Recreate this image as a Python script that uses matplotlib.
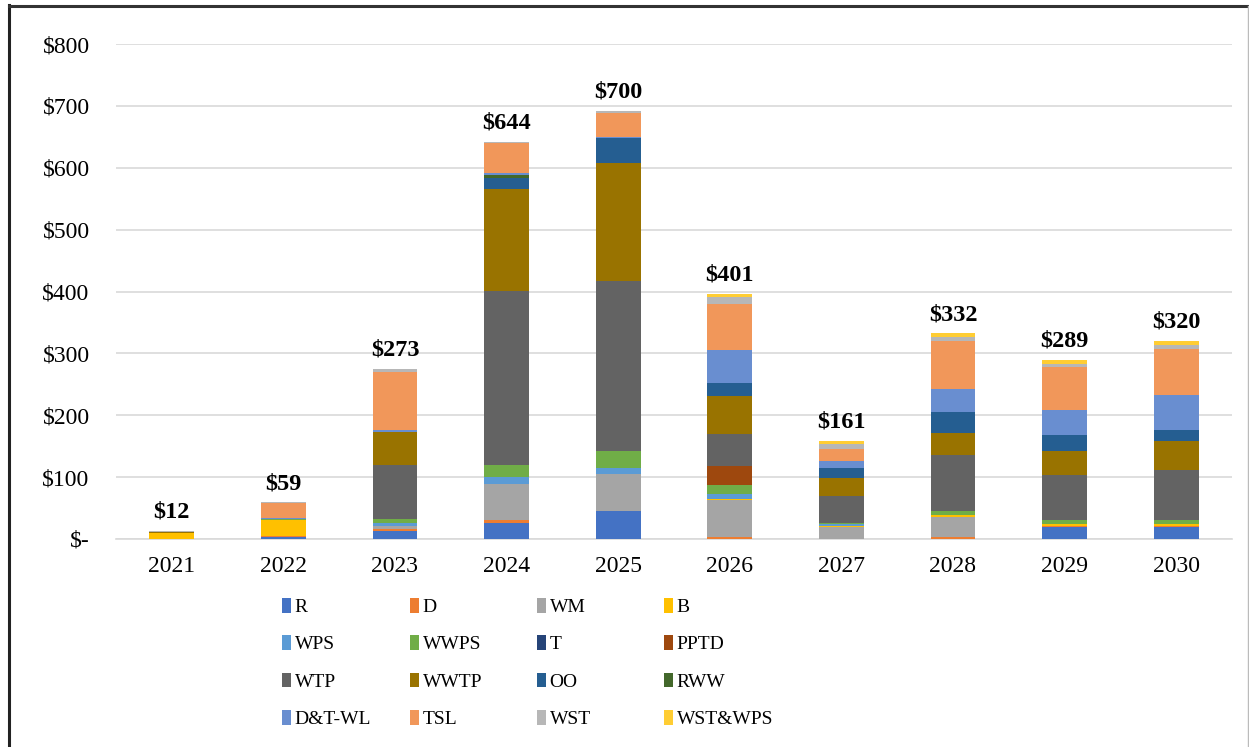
import numpy as np
from matplotlib import pyplot as plt
from matplotlib.lines import Line2D
from matplotlib.patches import Patch

plt.rcParams['font.family'] = ['Liberation Serif', 'DejaVu Serif']

years = ['2021', '2022', '2023', '2024', '2025', '2026', '2027', '2028', '2029', '2030']
totals = [12, 59, 273, 644, 700, 401, 161, 332, 289, 320]

cats = ['R', 'D', 'WM', 'B', 'WPS', 'WWPS', 'T', 'PPTD',
        'WTP', 'WWTP', 'OO', 'RWW', 'D&T-WL', 'TSL', 'WST', 'WST&WPS']
colors = ['#4472C4', '#ED7D31', '#A5A5A5', '#FFC000', '#5B9BD5', '#70AD47', '#264478', '#9E480E',
          '#636363', '#997300', '#255E91', '#43682B', '#698ED0', '#F1975A', '#B7B7B7', '#FFCD33']

# values in $M per year, 2021..2030
R       = [0,    3.2,  12.4, 25.3, 45.8,  0,    0,    0,    19.4, 19.4]
D       = [0,    1.0,  4.3,  5.4,  0,     2.7,  0,    3.2,  2.2,  2.2]
WM      = [0,    0,    3.8,  58.0, 59.2,  60.3, 18.8, 31.8, 0,    0]
B       = [10.5, 25.8, 0,    0,    0,     2.0,  2.7,  3.8,  2.7,  2.7]
WPS     = [0,    0,    4.8,  10.8, 9.7,   7.0,  2.7,  0,    0,    0]
WWPS    = [0,    2.2,  6.5,  19.9, 26.9,  15.0, 2.2,  7.0,  6.5,  6.5]
T       = [0,    0,    0,    0,    0,     0,    0,    0,    0,    0]
PPTD    = [0,    0,    0,    0,    0,     30.7, 0,    0,    0,    0]
WTP     = [0,    0,    88.3, 281.0, 276.0, 52.2, 42.5, 89.9, 72.2, 81.3]
WWTP    = [1.5,  0,    52.2, 166.0, 189.6, 60.9, 29.1, 35.0, 39.3, 45.8]
OO      = [0,    0,    0,    17.8, 40.4,  22.1, 16.7, 35.0, 26.4, 17.8]
RWW     = [0,    0,    0,    4.3,  0,     0,    0,    0,    0,    0]
DT_WL   = [0,    2.2,  4.3,  2.7,  1.6,   52.2, 11.3, 37.2, 39.3, 56.5]
TSL     = [0,    23.2, 93.7, 49.0, 38.8,  74.3, 19.9, 76.5, 69.5, 74.3]
WST     = [0.5,  1.6,  4.3,  2.0,  4.3,   11.3, 7.0,  7.0,  5.4,  6.5]
WST_WPS = [0,    0,    0,    0,    0,     5.9,  5.4,  5.9,  5.9,  6.5]

series = [R, D, WM, B, WPS, WWPS, T, PPTD, WTP, WWTP, OO, RWW, DT_WL, TSL, WST, WST_WPS]

W, H = 1249, 747
fig = plt.figure(figsize=(W / 100, H / 100), dpi=100)
ax = fig.add_axes([116 / W, 208 / H, 1116 / W, 495 / H])

x = np.arange(len(years))
bottom = np.zeros(len(years))
for vals, c in zip(series, colors):
    v = np.array(vals, dtype=float)
    ax.bar(x, v, 0.4, bottom=bottom, color=c, linewidth=0, zorder=3)
    bottom += v

for xi, top, t in zip(x, bottom, totals):
    ax.annotate(f'${t}', (xi, top), xytext=(0, 6), textcoords='offset points',
                ha='center', va='bottom', fontsize=17.5, fontweight='bold')

ax.set_xlim(-0.5, len(years) - 0.5)
ax.set_ylim(0, 800)
ax.set_yticks(range(0, 801, 100))
ax.set_yticklabels(['$-'] + [f'${v}' for v in range(100, 801, 100)], fontsize=17)
ax.set_xticks(x)
ax.set_xticklabels(years, fontsize=17)
ax.tick_params(axis='y', length=0, pad=19)
ax.tick_params(axis='x', length=0, pad=12)
ax.yaxis.grid(True, color='#D9D9D9', linewidth=1.2, zorder=0)
ax.set_axisbelow(True)
for s in ['top', 'right', 'left']:
    ax.spines[s].set_visible(False)
ax.spines['bottom'].set_color('#D9D9D9')
ax.spines['bottom'].set_linewidth(1.2)

# legend laid out row by row, 4 evenly spaced columns
handles = [Patch(facecolor=c, edgecolor='none') for c in colors]
col_x = [282, 410, 537, 664]
for ci, cx in enumerate(col_x):
    fig.legend(handles[ci::4], cats[ci::4], loc='upper left',
               bbox_to_anchor=(cx / W, 1 - 598 / H), frameon=False, fontsize=14,
               handlelength=0.45, handleheight=0.8, handletextpad=0.2,
               labelspacing=0.98, borderpad=0, borderaxespad=0)

# outer frame
fig.add_artist(Line2D([9 / W, 9 / W], [0, 1 - 5 / H], color='#222222', linewidth=2.2))
fig.add_artist(Line2D([9 / W, 1], [1 - 6 / H, 1 - 6 / H], color='#333333', linewidth=2.2))
fig.add_artist(Line2D([1247.5 / W, 1247.5 / W], [0, 1 - 6 / H], color='#BBBBBB', linewidth=1))

fig.savefig('out.png', dpi=100)
